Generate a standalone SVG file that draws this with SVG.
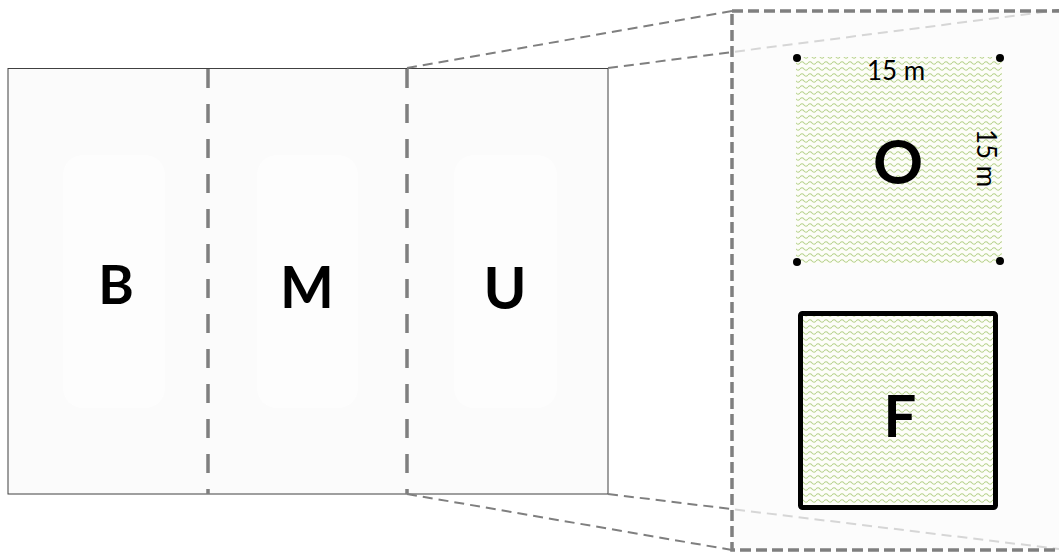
<svg xmlns="http://www.w3.org/2000/svg" width="1059" height="553" viewBox="0 0 1059 553">
<style>
.lbl{font-family:Lato,"Open Sans","Liberation Sans",sans-serif;font-weight:bold;fill:#000;text-anchor:middle}
.dim{font-family:Lato,"Open Sans","Liberation Sans",sans-serif;font-size:26px;fill:#000;text-anchor:middle}
.div{stroke:#7f7f7f;stroke-width:3.5;stroke-dasharray:19 16;fill:none}
.proj{stroke:#7f7f7f;stroke-width:2;stroke-dasharray:10 6;fill:none}
.lane{fill:#ffffff;stroke:none}
.dot{fill:#000}
</style>
<defs>
<pattern id="wave" width="8" height="6" patternUnits="userSpaceOnUse">
<rect width="8" height="6" fill="#fdfdf8"/>
<path d="M0,3 Q2,0.6 4,3 T8,3" fill="none" stroke="#b6d28c" stroke-width="1.1"/>
</pattern>
</defs>
<rect width="1059" height="553" fill="#ffffff"/>
<g id="site">
<rect x="8" y="68.5" width="600" height="425.5" fill="#fbfbfb" stroke="#404040" stroke-width="1"/>
</g>
<g id="lane-B">
<rect class="lane" x="63" y="155" width="102" height="253" rx="20" fill-opacity="0.6"/>
<text class="lbl" x="116" y="304" font-size="54">B</text>
</g>
<g id="lane-M">
<rect class="lane" x="257" y="155" width="101" height="253" rx="20" fill-opacity="0.6"/>
<text class="lbl" x="307" y="308" font-size="57">M</text>
</g>
<g id="lane-U">
<rect class="lane" x="454" y="155" width="103" height="253" rx="20" fill-opacity="0.6"/>
<text class="lbl" x="505" y="309" font-size="58">U</text>
</g>
<g id="connectors">
<line class="div" x1="208" y1="69" x2="208" y2="494"/>
<line class="div" x1="407" y1="69" x2="407" y2="494"/>
<line class="proj" x1="407" y1="68" x2="732" y2="11"/>
<line class="proj" x1="608" y1="68" x2="1059" y2="10"/>
<line class="proj" x1="407" y1="494" x2="732" y2="550"/>
<line class="proj" x1="608" y1="494" x2="1059" y2="549"/>
</g>
<g id="zoom-box">
<rect x="732" y="11" width="340" height="539" fill="#fbfbfb" fill-opacity="0.7" stroke="#7f7f7f" stroke-width="3.5" stroke-dasharray="11 5"/>
</g>
<g id="plot-O">
<rect x="796" y="57" width="206" height="207" fill="url(#wave)"/>
<circle class="dot" cx="797" cy="58" r="4"/>
<circle class="dot" cx="1000" cy="58" r="4"/>
<circle class="dot" cx="797" cy="262" r="4"/>
<circle class="dot" cx="1000" cy="261" r="4"/>
<text class="dim" x="896" y="80">15 m</text>
<text class="dim" transform="translate(977,158) rotate(90)">15 m</text>
<text class="lbl" x="898" y="184" font-size="62">O</text>
</g>
<g id="plot-F">
<rect x="800.5" y="313.5" width="195" height="194" rx="2" fill="url(#wave)" stroke="#000" stroke-width="5"/>
<text class="lbl" x="900" y="437" font-size="58">F</text>
</g>
</svg>
